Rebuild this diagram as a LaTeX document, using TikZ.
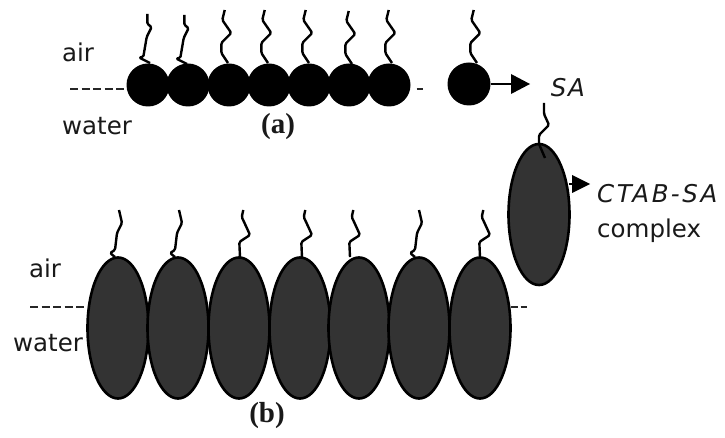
\documentclass[tikz,border=0pt]{standalone}
\usepackage{fontspec}
\setmainfont{Liberation Serif}
\newfontfamily\labelfont{DejaVu Sans}
\newfontfamily\slantfont[LetterSpace=7]{DejaVu Sans Oblique}
\newfontfamily\wideslantfont[LetterSpace=11]{DejaVu Sans Oblique}
\usetikzlibrary{shapes.geometric}
\tikzset{
  headA/.style={circle,fill=black,draw=none,minimum size=43pt,inner sep=0pt,outer sep=0pt},
  headB/.style={ellipse,fill=black!80,draw=black,line width=2.6pt,minimum width=61pt,minimum height=141pt,inner sep=0pt,outer sep=0pt},
  tail/.style={line width=2.4pt,line join=round,rounded corners=1.5pt,draw=black},
  dashline/.style={line width=2pt,dash pattern=on 8pt off 3.5pt,draw=black!85},
  lbl/.style={font=\labelfont\fontsize{24.5}{24.5}\selectfont,inner sep=0pt,text=black!90},
  slant/.style={font=\slantfont\fontsize{24.5}{24.5}\selectfont,inner sep=0pt,text=black!90},
  wideslant/.style={font=\wideslantfont\fontsize{24.5}{24.5}\selectfont,inner sep=0pt,text=black!90},
  tag/.style={font=\bfseries\fontsize{29}{29}\selectfont,inner sep=0pt,text=black!90},
  arrowline/.style={line width=2.2pt,draw=black},
  arrowhead/.style={fill=black,draw=none}
}
\newcommand{\tailWave}[1]{\draw[tail,shift={(#1)}] (0,0) -- (-6.7,-10) -- (-6.7,-20) -- (3.3,-30) -- (-5.7,-43) -- (-3.3,-53);}
\newcommand{\tailKink}[1]{\draw[tail,shift={(#1)}] (0,0) -- (-11,-5.5) -- (-6.7,-6) -- (-3.3,-26) -- (1.7,-36) -- (-2.7,-39) -- (-2.7,-49);}
\newcommand{\tailWaveB}[1]{\draw[tail,shift={(#1)}] (0,0) -- (-.7,-15) -- (10,-22) -- (5,-33) -- (1.7,-40) -- (3.3,-47);}
\newcommand{\tailKinkB}[1]{\draw[tail,shift={(#1)}] (0,0) -- (-5,-4) -- (0,-7) -- (2,-24) -- (7,-34) -- (4,-47);}
\begin{document}
\begin{tikzpicture}[x=1pt,y=-1pt]
\useasboundingbox (0,0) rectangle (725,438);
% interface lines
\coordinate (la) at (70,89);
\coordinate (lb) at (30,306.5);
\coordinate (ra) at (423,89);
\coordinate (rb) at (527,306.5);
% row a heads
\foreach \n/\x in {1/148,2/188,3/229,4/269,5/309,6/349,7/389}
  \node[headA] (a\n) at (\x,85) {};
\node[headA] (single) at (469,84) {};
\draw[dashline] (la) -- (a1.west |- la);
\draw[dashline] (a7.east |- ra) ++(6,0) -- (ra);
% row b heads
\foreach \n/\x in {1/118,2/178,3/239,4/300,5/359,6/419,7/480}
  \node[headB] (b\n) at (\x,328) {};
\node[headB] (complex) at (539,214.5) {};
\draw[dashline] (lb) -- (b1.west |- lb);
\draw[dashline,dash pattern=on 7.5pt off 2.5pt] (b7.east |- rb) -- (rb);
% tails row a
\coordinate (ta1) at (150,63);
\coordinate (ta2) at (187,64);
\tailKink{ta1}
\tailKink{ta2}
\foreach \x/\y in {228/63,268/63,309/63,352/64,392/63,477/63}{
  \coordinate (tw) at (\x,\y);
  \tailWave{tw}
}
% tails row b
\foreach \x in {115,175,415}{
  \coordinate (tk) at (\x,257);
  \tailKinkB{tk}
}
\foreach \x in {240,302,350,480}{
  \coordinate (tw) at (\x,257);
  \tailWaveB{tw}
}
\draw[tail,shift={(complex.north)}] (6,14) -- (0,0) -- (0,-9) -- (10,-19) -- (5,-30) -- (5,-41);
% arrows
\coordinate (sa) at (530,84);
\coordinate (sb) at (511,84);
\draw[arrowline] (single.east) -- (sb);
\fill[arrowhead] (sa) -- (511,74) -- (511,94) -- cycle;
\coordinate (ca) at (590,184);
\coordinate (cb) at (572,184);
\draw[arrowline] (569,184) -- (cb);
\fill[arrowhead] (ca) -- (572,175) -- (572,193) -- cycle;
% labels
\node[lbl] (airA) at (78,52) {air};
\node[lbl] (waterA) at (97,126) {water};
\node[tag] (tagA) at (278,127) {(a)};
\node[slant] (saL) at (568,88) {SA};
\node[wideslant,anchor=west] (ctab) at (597,194) {CTAB-SA};
\node[lbl,anchor=west] (compL) at (597,231) {complex};
\node[lbl] (airB) at (45,268) {air};
\node[lbl] (waterB) at (48,343) {water};
\node[tag] (tagB) at (267,416) {(b)};
\end{tikzpicture}
\end{document}
